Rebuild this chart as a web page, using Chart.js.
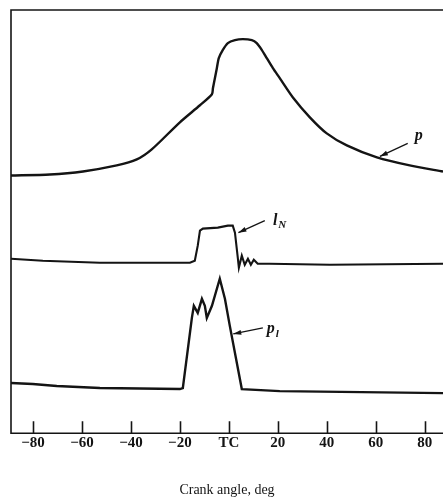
<!DOCTYPE html>
<html>
<head>
<meta charset="utf-8">
<script src="https://cdn.jsdelivr.net/npm/chart.js@4.4.1/dist/chart.umd.min.js"></script>
<style>
  html, body { margin: 0; padding: 0; background: #fff; }
  canvas { display: block; }
</style>
</head>
<body>
<canvas id="chart" width="443" height="499"></canvas>
<script>
// crank angle (deg) and trace height (arbitrary units above the axis)
const pAngles = [-89, -73.1, -59.6, -45.8, -37.6, -31.5, -20, -11.8, -6.9, -6.5, -5.7, -4.9, -4.1, -2.5, -0.4, 2.5, 5.7, 9.4, 11.4, 13.5, 15.5, 18, 20.8, 26.1, 33.1, 40, 48.2, 60.5, 73.9, 87.5];
const pValues = [257, 258, 261, 267, 273, 283, 310, 327, 338, 344, 354, 364, 374, 382, 389, 392, 393, 392, 389, 382, 374, 364, 354, 335, 315, 299, 287, 275, 267, 261];

const inAngles = [-89, -76, -52.7, -15.9, -13.9, -12.7, -11.8, -10.6, -4.5, -0.4, 1.6, 2.5, 3.7, 4.1, 5.3, 6.5, 7.8, 9, 10.2, 11.8, 16.7, 41.3, 87.5];
const inValues = [174, 172, 170, 170, 172, 187, 202, 204, 205, 207, 207, 200, 174, 165, 177, 168, 174, 168, 173, 169, 169, 168, 169];

const plAngles = [-89, -80.1, -70.3, -52.7, -20, -18.8, -15.1, -14.3, -12.7, -11, -9.8, -9, -6.9, -3.7, -1.6, 0.4, 5.3, 20.8, 87.5];
const plValues = [50, 49, 47, 45, 44, 45, 115, 127, 120, 134, 127, 115, 127, 154, 134, 107, 44, 42, 40];

const tickValues = [-80, -60, -40, -20, 0, 20, 40, 60, 80];

// curve labels with leader arrows: [x, y] in data units
const notes = [
  { text: "p", sub: "", at: [76, 296], from: [73.1, 289], to: [61.7, 276] },
  { text: "l", sub: "N", at: [18, 212], from: [14.7, 212], to: [3.9, 200] },
  { text: "p", sub: "l", at: [15.5, 104], from: [13.9, 105], to: [1.8, 99] },
];

const toPoints = (xs, ys) => xs.map((x, i) => ({ x: x, y: ys[i] }));

const ink = "#141414";

const frameAndNotes = {
  id: "frameAndNotes",
  afterDatasetsDraw(chart) {
    const { ctx, chartArea, scales } = chart;
    const xs = scales.x;
    const ys = scales.y;
    ctx.save();
    ctx.strokeStyle = ink;
    ctx.fillStyle = ink;
    ctx.lineWidth = 1.6;

    // left axis, top border, bottom axis
    ctx.beginPath();
    ctx.moveTo(chartArea.right, chartArea.bottom);
    ctx.lineTo(chartArea.left, chartArea.bottom);
    ctx.lineTo(chartArea.left, chartArea.top);
    ctx.lineTo(chartArea.right, chartArea.top);
    ctx.stroke();

    // ticks point up into the plot
    ctx.beginPath();
    tickValues.forEach((v) => {
      const px = Math.round(xs.getPixelForValue(v)) + 0.5;
      ctx.moveTo(px, chartArea.bottom);
      ctx.lineTo(px, chartArea.bottom - 12);
    });
    ctx.stroke();

    // labels + arrows
    notes.forEach((n) => {
      const x0 = xs.getPixelForValue(n.from[0]);
      const y0 = ys.getPixelForValue(n.from[1]);
      const x1 = xs.getPixelForValue(n.to[0]);
      const y1 = ys.getPixelForValue(n.to[1]);
      ctx.lineWidth = 1.3;
      ctx.beginPath();
      ctx.moveTo(x0, y0);
      ctx.lineTo(x1, y1);
      ctx.stroke();
      const a = Math.atan2(y1 - y0, x1 - x0);
      ctx.beginPath();
      ctx.moveTo(x1, y1);
      ctx.lineTo(x1 - 8 * Math.cos(a) + 2.5 * Math.sin(a), y1 - 8 * Math.sin(a) - 2.5 * Math.cos(a));
      ctx.lineTo(x1 - 8 * Math.cos(a) - 2.5 * Math.sin(a), y1 - 8 * Math.sin(a) + 2.5 * Math.cos(a));
      ctx.closePath();
      ctx.fill();

      const tx = xs.getPixelForValue(n.at[0]);
      const ty = ys.getPixelForValue(n.at[1]);
      ctx.textBaseline = "middle";
      ctx.textAlign = "left";
      ctx.font = "italic bold 16px 'Liberation Serif'";
      ctx.fillText(n.text, tx, ty);
      if (n.sub) {
        const w = ctx.measureText(n.text).width;
        ctx.font = "italic bold 11px 'Liberation Serif'";
        ctx.fillText(n.sub, tx + w + 1, ty + 5);
      }
    });
    ctx.restore();
  },
};

const lineStyle = {
  borderColor: ink,
  borderWidth: 2.4,
  pointRadius: 0,
  tension: 0.25,
  fill: false,
};

new Chart(document.getElementById("chart"), {
  type: "line",
  data: {
    datasets: [
      { label: "p", data: toPoints(pAngles, pValues), ...lineStyle },
      { label: "l_N", data: toPoints(inAngles, inValues), ...lineStyle, borderWidth: 2.1, tension: 0 },
      { label: "p_l", data: toPoints(plAngles, plValues), ...lineStyle, tension: 0 },
    ],
  },
  options: {
    responsive: false,
    animation: false,
    layout: { padding: { left: 11, top: 10, right: 0, bottom: 0 } },
    plugins: {
      legend: { display: false },
      tooltip: { enabled: false },
    },
    scales: {
      x: {
        type: "linear",
        min: -89,
        max: 87.5,
        afterBuildTicks: (scale) => {
          scale.ticks = tickValues.map((v) => ({ value: v }));
        },
        grid: { display: false, drawTicks: false },
        border: { display: false },
        ticks: {
          padding: 1,
          maxRotation: 0,
          autoSkip: false,
          color: ink,
          font: { family: "Liberation Serif", size: 15, weight: "bold" },
          callback: (v) => (v === 0 ? "TC" : v < 0 ? "\u2212" + Math.abs(v) : String(v)),
        },
        title: {
          display: true,
          text: "Crank angle, deg",
          color: ink,
          font: { family: "Liberation Serif", size: 14 },
          padding: { top: 29, bottom: 0 },
        },
      },
      y: {
        display: false,
        min: 0,
        max: 422,
      },
    },
  },
  plugins: [frameAndNotes],
});
</script>
</body>
</html>
